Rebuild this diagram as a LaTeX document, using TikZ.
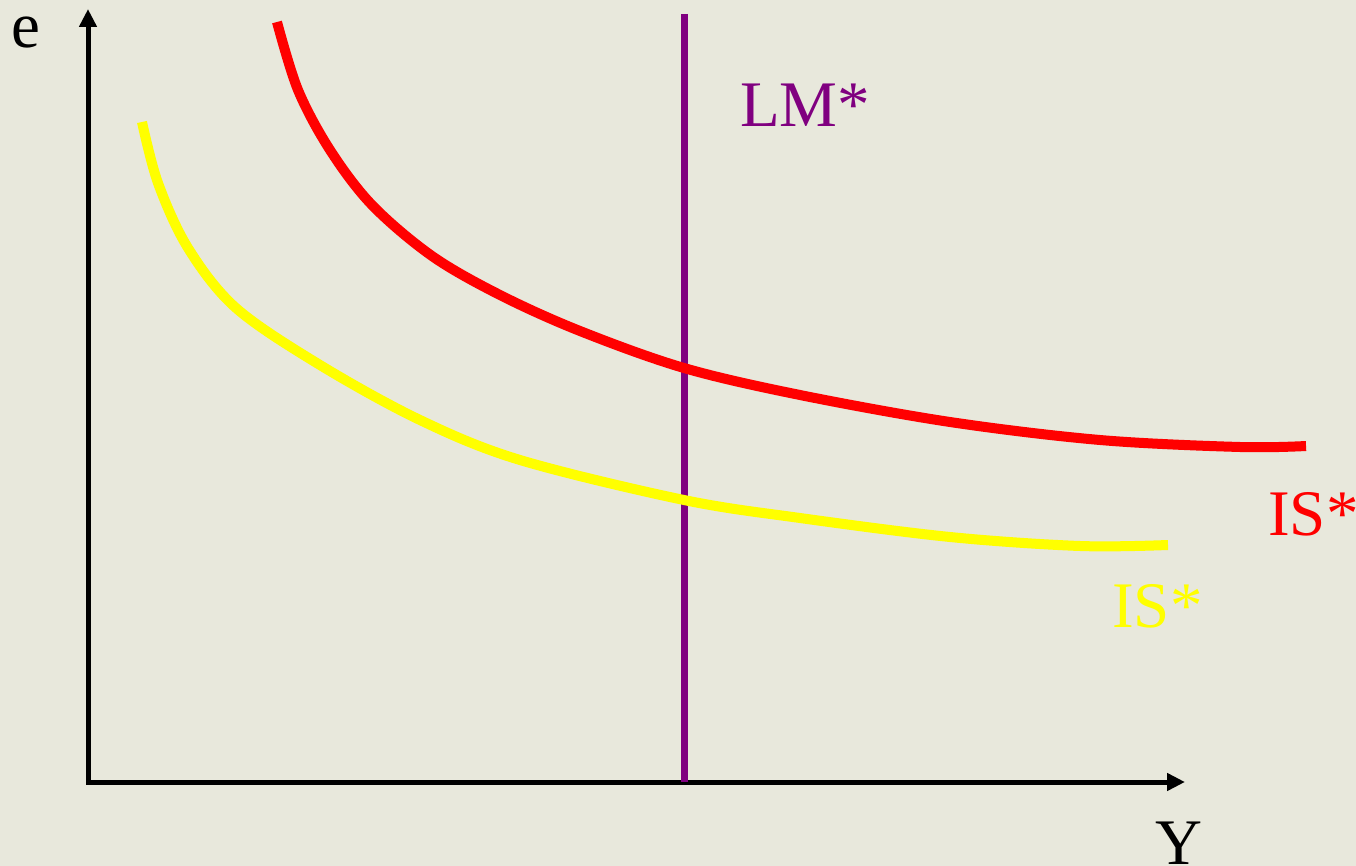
\documentclass[tikz,border=0pt]{standalone}
\usepackage{fontspec}
\setmainfont{Liberation Serif}
\usetikzlibrary{arrows.meta}
\definecolor{bg}{RGB}{232,232,220}
\definecolor{lmpurple}{RGB}{128,0,128}
\definecolor{isred}{RGB}{255,0,0}
\definecolor{isyellow}{RGB}{255,255,0}
\begin{document}
\begin{tikzpicture}[x=1pt,y=-1pt,
  axis/.style={line width=5pt},
  curve/.style={line width=10pt,smooth,tension=0.55},
  lbl/.style={inner sep=0pt,anchor=base west,font=\fontsize{65}{70}\selectfont}]
\fill[bg] (0,0) rectangle (1356,866);
\useasboundingbox (0,0) rectangle (1356,866);
\coordinate (origin) at (88,782);
\coordinate (ytip) at (88,9);
\coordinate (xtip) at (1185,782);
\coordinate (lmtop) at (684,14);
\coordinate (lmbot) at (684,782);
\draw[axis,{Triangle[length=18pt,width=17pt]}-{Triangle[length=18pt,width=17pt]},line join=miter] (ytip) -- (origin) -- (xtip);
\draw[lmpurple,line width=7pt] (lmtop) -- (lmbot);
\draw[isyellow,curve] plot coordinates {(142,122) (158,183) (188,248) (236,308) (320,365) (420,420) (520,460) (684,500) (800,518) (950,537) (1080,546) (1168,545)};
\draw[isred,curve] plot coordinates {(277,22) (298,90) (330,150) (372,205) (432,256) (500,295) (580,331) (684,368) (800,395) (950,422) (1100,440) (1240,447) (1306,446)};
\node[lbl] (e) at (11,48) {e};
\node[lbl] (Y) at (1155,864) {Y};
\node[lbl,text=lmpurple] (lm) at (740,127) {LM*};
\node[lbl,text=isred] (isr) at (1268,535) {IS*};
\node[lbl,text=isyellow] (isy) at (1112,627) {IS*};
\end{tikzpicture}
\end{document}
